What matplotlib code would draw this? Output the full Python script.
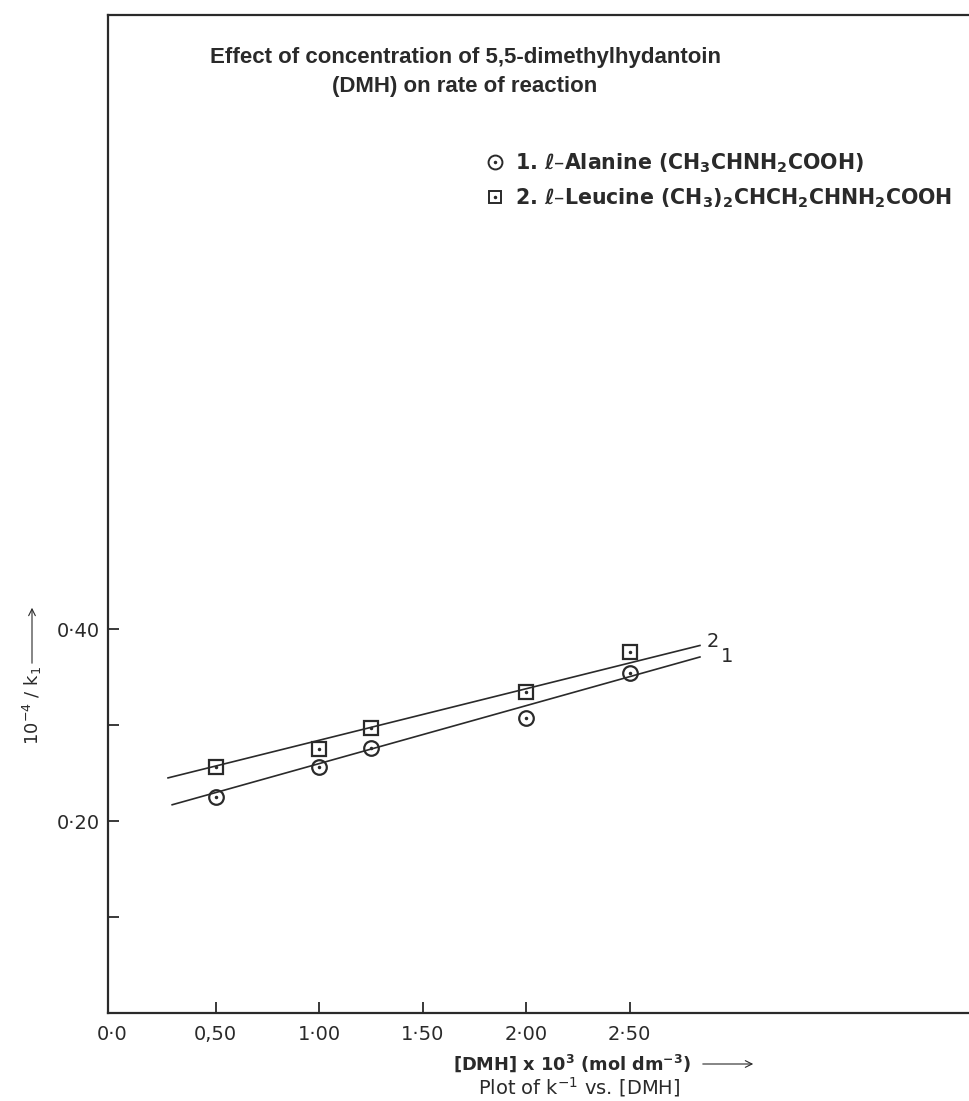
import matplotlib
matplotlib.use("Agg")
import matplotlib.pyplot as plt
from matplotlib.lines import Line2D
from matplotlib.patches import FancyArrowPatch
from matplotlib.legend_handler import HandlerTuple

# Data
dmh = [0.5, 1.0, 1.25, 2.0, 2.5]
alanine = [0.225, 0.256, 0.276, 0.307, 0.354]
leucine = [0.256, 0.275, 0.297, 0.335, 0.376]

# hand-drawn best fit lines (end points)
fit1_x = [0.29, 2.84]
fit1_y = [0.217, 0.371]
fit2_x = [0.27, 2.84]
fit2_y = [0.245, 0.383]

xticks = [0.0, 0.5, 1.0, 1.5, 2.0, 2.5]
xticklabels = ["0·0", "0,50", "1·00", "1·50", "2·00", "2·50"]
yticks = [0.1, 0.2, 0.3, 0.4]
yticklabels = ["", "0·20", "", "0·40"]

ink = "#2a2a2a"
title_font = ["Liberation Sans", "DejaVu Sans"]

plt.rcParams.update({
    "font.family": ["DejaVu Sans"],
    "axes.linewidth": 1.6,
    "axes.edgecolor": ink,
    "mathtext.fontset": "dejavusans",
})

fig = plt.figure(figsize=(9.69, 11.01), dpi=100)
ax = fig.add_axes([108 / 969, 1 - 1013 / 1101, 1 - 108 / 969, (1013 - 15) / 1101])

ax.plot(fit1_x, fit1_y, color=ink, lw=1.2)
ax.plot(fit2_x, fit2_y, color=ink, lw=1.2)

# open markers with a dot in the middle
ax.plot(dmh, alanine, ls="none", marker="o", ms=10.5, mfc="none", mec=ink, mew=1.6)
ax.plot(dmh, alanine, ls="none", marker=".", ms=3, color=ink)
ax.plot(dmh, leucine, ls="none", marker="s", ms=9.5, mfc="none", mec=ink, mew=1.6)
ax.plot(dmh, leucine, ls="none", marker=".", ms=3, color=ink)

ax.text(fit2_x[1] + 0.03, fit2_y[1] + 0.004, "2", fontsize=14, color=ink, ha="left", va="center")
ax.text(fit1_x[1] + 0.10, fit1_y[1] + 0.0, "1", fontsize=14, color=ink, ha="left", va="center")

ax.set_xlim(-0.02, 4.14)
ax.set_ylim(0, 1.04)
ax.spines["right"].set_visible(False)

ax.set_xticks(xticks)
ax.set_xticklabels(xticklabels, fontsize=14, color=ink)
ax.set_yticks(yticks)
ax.set_yticklabels(yticklabels, fontsize=14, color=ink)
ax.tick_params(axis="x", direction="in", length=8, width=1.3, pad=9, colors=ink)
ax.tick_params(axis="y", direction="in", length=8, width=1.3, pad=6, colors=ink)
ax.xaxis.get_major_ticks()[0].tick1line.set_visible(False)

# legend
h1 = (Line2D([], [], ls="none", marker="o", ms=10, mfc="none", mec=ink, mew=1.4),
      Line2D([], [], ls="none", marker=".", ms=3, color=ink))
h2 = (Line2D([], [], ls="none", marker="s", ms=9, mfc="none", mec=ink, mew=1.4),
      Line2D([], [], ls="none", marker=".", ms=3, color=ink))
ax.legend([h1, h2],
          [r"1. ℓ–Alanine (CH$_\mathbf{3}$CHNH$_\mathbf{2}$COOH)",
           r"2. ℓ–Leucine (CH$_\mathbf{3}$)$_\mathbf{2}$CHCH$_\mathbf{2}$CHNH$_\mathbf{2}$COOH"],
          handler_map={tuple: HandlerTuple(ndivide=1, pad=0)},
          loc="upper left", bbox_to_anchor=(466 / 969, 1 - 133 / 1101),
          bbox_transform=fig.transFigure, frameon=False, labelcolor=ink,
          prop={"weight": "bold", "size": 14.8},
          handlelength=1.0, handletextpad=0.5, labelspacing=0.55)

fig.text(0.48, 1 - 72 / 1101,
         "Effect of concentration of 5,5-dimethylhydantoin\n(DMH) on rate of reaction",
         ha="center", va="center", fontsize=16, fontweight="bold",
         family=title_font, color=ink, linespacing=1.5)

# axis labels
fig.text(32 / 969, 1 - 705 / 1101, "10$^{-4}$ / k$_1$", rotation=90,
         ha="center", va="center", fontsize=13, color=ink)
fig.add_artist(FancyArrowPatch(
    (32 / 969, 1 - 666 / 1101), (32 / 969, 1 - 605 / 1101),
    transform=fig.transFigure, arrowstyle="->", mutation_scale=12, lw=0.8, color=ink))

fig.text(453 / 969, 1 - 1063 / 1101, r"[DMH] x 10$^\mathbf{3}$ (mol dm$^\mathbf{-3}$)",
         ha="left", va="center", fontsize=12.8, fontweight="bold", color=ink)
fig.add_artist(FancyArrowPatch(
    (700 / 969, 1 - 1064 / 1101), (756 / 969, 1 - 1064 / 1101),
    transform=fig.transFigure, arrowstyle="->", mutation_scale=12, lw=0.8, color=ink))
fig.text(579 / 969, 1 - 1087 / 1101, "Plot of k$^{-1}$ vs. [DMH]",
         ha="center", va="center", fontsize=14, color=ink)

fig.savefig("out.png", dpi=100)
